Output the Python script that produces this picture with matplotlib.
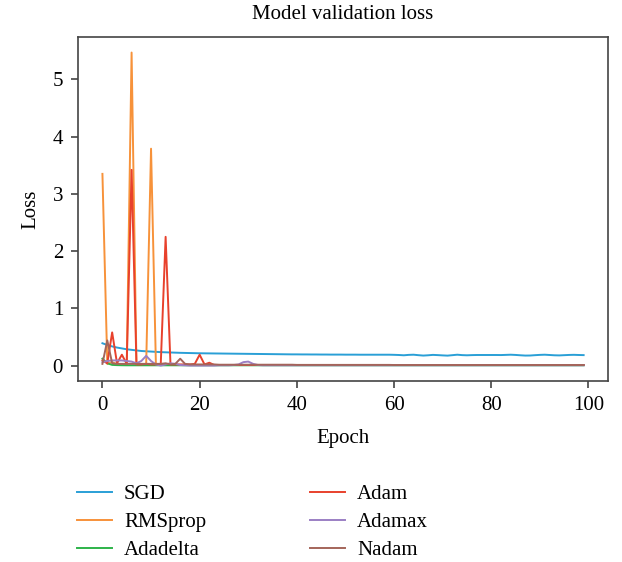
import matplotlib
matplotlib.use("Agg")
import matplotlib.pyplot as plt

plt.rcParams['font.family'] = ['Liberation Serif', 'DejaVu Serif']

# validation loss per epoch
epochs = list(range(100))

sgd = [0.39, 0.36, 0.335, 0.315, 0.30, 0.285, 0.275, 0.265, 0.255, 0.25,
       0.245, 0.24, 0.235, 0.232, 0.229, 0.226, 0.223, 0.221, 0.219, 0.217,
       0.215, 0.214, 0.213, 0.212, 0.211, 0.21, 0.209, 0.208, 0.207, 0.206,
       0.205, 0.204, 0.203, 0.202, 0.201, 0.2, 0.199, 0.198, 0.197, 0.196,
       0.196, 0.195, 0.195, 0.194, 0.194, 0.193, 0.193, 0.192, 0.192, 0.192,
       0.191, 0.191, 0.191, 0.19, 0.19, 0.19, 0.19, 0.19, 0.19, 0.19,
       0.188, 0.185, 0.18, 0.187, 0.19, 0.182, 0.175, 0.18, 0.187, 0.183,
       0.178, 0.174, 0.182, 0.19, 0.183, 0.18, 0.183, 0.185, 0.185, 0.185,
       0.185, 0.185, 0.184, 0.187, 0.19, 0.186, 0.18, 0.175, 0.176, 0.182,
       0.187, 0.19, 0.185, 0.18, 0.178, 0.182, 0.186, 0.188, 0.185, 0.183]

rmsprop = [3.35, 0.03, 0.06, 0.02, 0.02, 0.02, 5.47, 0.02, 0.02, 0.02,
           3.79, 0.02, 0.015, 0.015, 0.015, 0.012, 0.012, 0.012, 0.012, 0.012,
           0.01, 0.01, 0.01, 0.01, 0.01, 0.01, 0.01, 0.01, 0.01, 0.01,
           0.01, 0.01, 0.01, 0.01, 0.01, 0.01, 0.01, 0.01, 0.01, 0.01,
           0.01, 0.01, 0.01, 0.01, 0.01, 0.01, 0.01, 0.01, 0.01, 0.01,
           0.01, 0.01, 0.01, 0.01, 0.01, 0.01, 0.01, 0.01, 0.01, 0.01,
           0.01, 0.01, 0.01, 0.01, 0.01, 0.01, 0.01, 0.01, 0.01, 0.01,
           0.01, 0.01, 0.01, 0.01, 0.01, 0.01, 0.01, 0.01, 0.01, 0.01,
           0.01, 0.01, 0.01, 0.01, 0.01, 0.01, 0.01, 0.01, 0.01, 0.01,
           0.01, 0.01, 0.01, 0.01, 0.01, 0.01, 0.01, 0.01, 0.01, 0.01]

adadelta = [0.12, 0.04, 0.012, 0.008, 0.006, 0.005, 0.005, 0.005, 0.005, 0.005,
            0.005, 0.005, 0.005, 0.005, 0.005, 0.005, 0.005, 0.005, 0.005, 0.005,
            0.005, 0.005, 0.005, 0.005, 0.005, 0.005, 0.005, 0.005, 0.005, 0.005,
            0.005, 0.005, 0.005, 0.005, 0.005, 0.005, 0.005, 0.005, 0.005, 0.005,
            0.005, 0.005, 0.005, 0.005, 0.005, 0.005, 0.005, 0.005, 0.005, 0.005,
            0.005, 0.005, 0.005, 0.005, 0.005, 0.005, 0.005, 0.005, 0.005, 0.005,
            0.005, 0.005, 0.005, 0.005, 0.005, 0.005, 0.005, 0.005, 0.005, 0.005,
            0.005, 0.005, 0.005, 0.005, 0.005, 0.005, 0.005, 0.005, 0.005, 0.005,
            0.005, 0.005, 0.005, 0.005, 0.005, 0.005, 0.005, 0.005, 0.005, 0.005,
            0.005, 0.005, 0.005, 0.005, 0.005, 0.005, 0.005, 0.005, 0.005, 0.005]

adam = [0.09, 0.04, 0.58, 0.04, 0.19, 0.03, 3.42, 0.02, 0.02, 0.03,
        0.02, 0.02, 0.03, 2.25, 0.02, 0.02, 0.02, 0.02, 0.02, 0.03,
        0.19, 0.02, 0.05, 0.01, 0.01, 0.01, 0.01, 0.01, 0.01, 0.01,
        0.01, 0.01, 0.01, 0.01, 0.01, 0.01, 0.01, 0.01, 0.01, 0.01,
        0.01, 0.01, 0.01, 0.01, 0.01, 0.01, 0.01, 0.01, 0.01, 0.01,
        0.01, 0.01, 0.01, 0.01, 0.01, 0.01, 0.01, 0.01, 0.01, 0.01,
        0.01, 0.01, 0.01, 0.01, 0.01, 0.01, 0.01, 0.01, 0.01, 0.01,
        0.01, 0.01, 0.01, 0.01, 0.01, 0.01, 0.01, 0.01, 0.01, 0.01,
        0.01, 0.01, 0.01, 0.01, 0.01, 0.01, 0.01, 0.01, 0.01, 0.01,
        0.01, 0.01, 0.01, 0.01, 0.01, 0.01, 0.01, 0.01, 0.01, 0.01]

adamax = [0.06, 0.08, 0.09, 0.09, 0.09, 0.08, 0.07, 0.04, 0.08, 0.17,
          0.08, 0.02, 0.0, 0.02, 0.04, 0.03, 0.01, 0.005, 0.0, 0.0,
          0.0, 0.0, 0.0, 0.0, 0.005, 0.005, 0.005, 0.01, 0.02, 0.06,
          0.07, 0.03, 0.01, 0.005, 0.005, 0.005, 0.005, 0.005, 0.005, 0.005,
          0.005, 0.005, 0.005, 0.005, 0.005, 0.005, 0.005, 0.005, 0.005, 0.005,
          0.005, 0.005, 0.005, 0.005, 0.005, 0.005, 0.005, 0.005, 0.005, 0.005,
          0.005, 0.005, 0.005, 0.005, 0.005, 0.005, 0.005, 0.005, 0.005, 0.005,
          0.005, 0.005, 0.005, 0.005, 0.005, 0.005, 0.005, 0.005, 0.005, 0.005,
          0.005, 0.005, 0.005, 0.005, 0.005, 0.005, 0.005, 0.005, 0.005, 0.005,
          0.005, 0.005, 0.005, 0.005, 0.005, 0.005, 0.005, 0.005, 0.005, 0.005]

nadam = [0.03, 0.44, 0.04, 0.03, 0.03, 0.03, 0.03, 0.03, 0.03, 0.03,
         0.03, 0.03, 0.03, 0.04, 0.02, 0.03, 0.12, 0.03, 0.02, 0.02,
         0.02, 0.02, 0.02, 0.02, 0.015, 0.015, 0.015, 0.015, 0.015, 0.015,
         0.015, 0.015, 0.015, 0.015, 0.015, 0.015, 0.015, 0.015, 0.015, 0.015,
         0.012, 0.012, 0.012, 0.012, 0.012, 0.012, 0.012, 0.012, 0.012, 0.012,
         0.012, 0.012, 0.012, 0.012, 0.012, 0.012, 0.012, 0.012, 0.012, 0.012,
         0.01, 0.01, 0.01, 0.01, 0.01, 0.01, 0.01, 0.01, 0.01, 0.01,
         0.01, 0.01, 0.01, 0.01, 0.01, 0.01, 0.01, 0.01, 0.01, 0.01,
         0.01, 0.01, 0.01, 0.01, 0.01, 0.01, 0.01, 0.01, 0.01, 0.01,
         0.01, 0.01, 0.01, 0.01, 0.01, 0.01, 0.01, 0.01, 0.01, 0.01]

names = ['SGD', 'RMSprop', 'Adadelta', 'Adam', 'Adamax', 'Nadam']
colors = ['#2a9fd6', '#f7923a', '#2db34a', '#e8412c', '#9b7fc4', '#a4655a']

fs = 15

fig = plt.figure(figsize=(6.22, 5.62), dpi=100)
ax = fig.add_axes([0.126, 0.322, 0.851, 0.612])

for vals, name, c in zip([sgd, rmsprop, adadelta, adam, adamax, nadam], names, colors):
    ax.plot(epochs, vals, color=c, lw=1.4, label=name)

ax.set_xlim(-4.95, 103.95)
ax.set_ylim(-0.27, 5.74)
ax.set_xticks([0, 20, 40, 60, 80, 100])
ax.set_yticks([0, 1, 2, 3, 4, 5])
ax.tick_params(labelsize=fs, length=5, width=1.2, color='#444444', pad=6)
for s in ax.spines.values():
    s.set_color('#444444')
    s.set_linewidth(1.2)

ax.set_title('Model validation loss', fontsize=fs, pad=13)
ax.set_xlabel('Epoch', fontsize=fs, labelpad=10)
ax.set_ylabel('Loss', fontsize=fs, labelpad=9)

# legend in two columns under the axes
fig.legend(loc='upper left', bbox_to_anchor=(0.124, 0.138), ncol=2, frameon=False,
           fontsize=fs, handlelength=1.65, handletextpad=0.6, columnspacing=5.0,
           labelspacing=0.4, borderpad=0, borderaxespad=0)

fig.savefig('out.png', dpi=100)
